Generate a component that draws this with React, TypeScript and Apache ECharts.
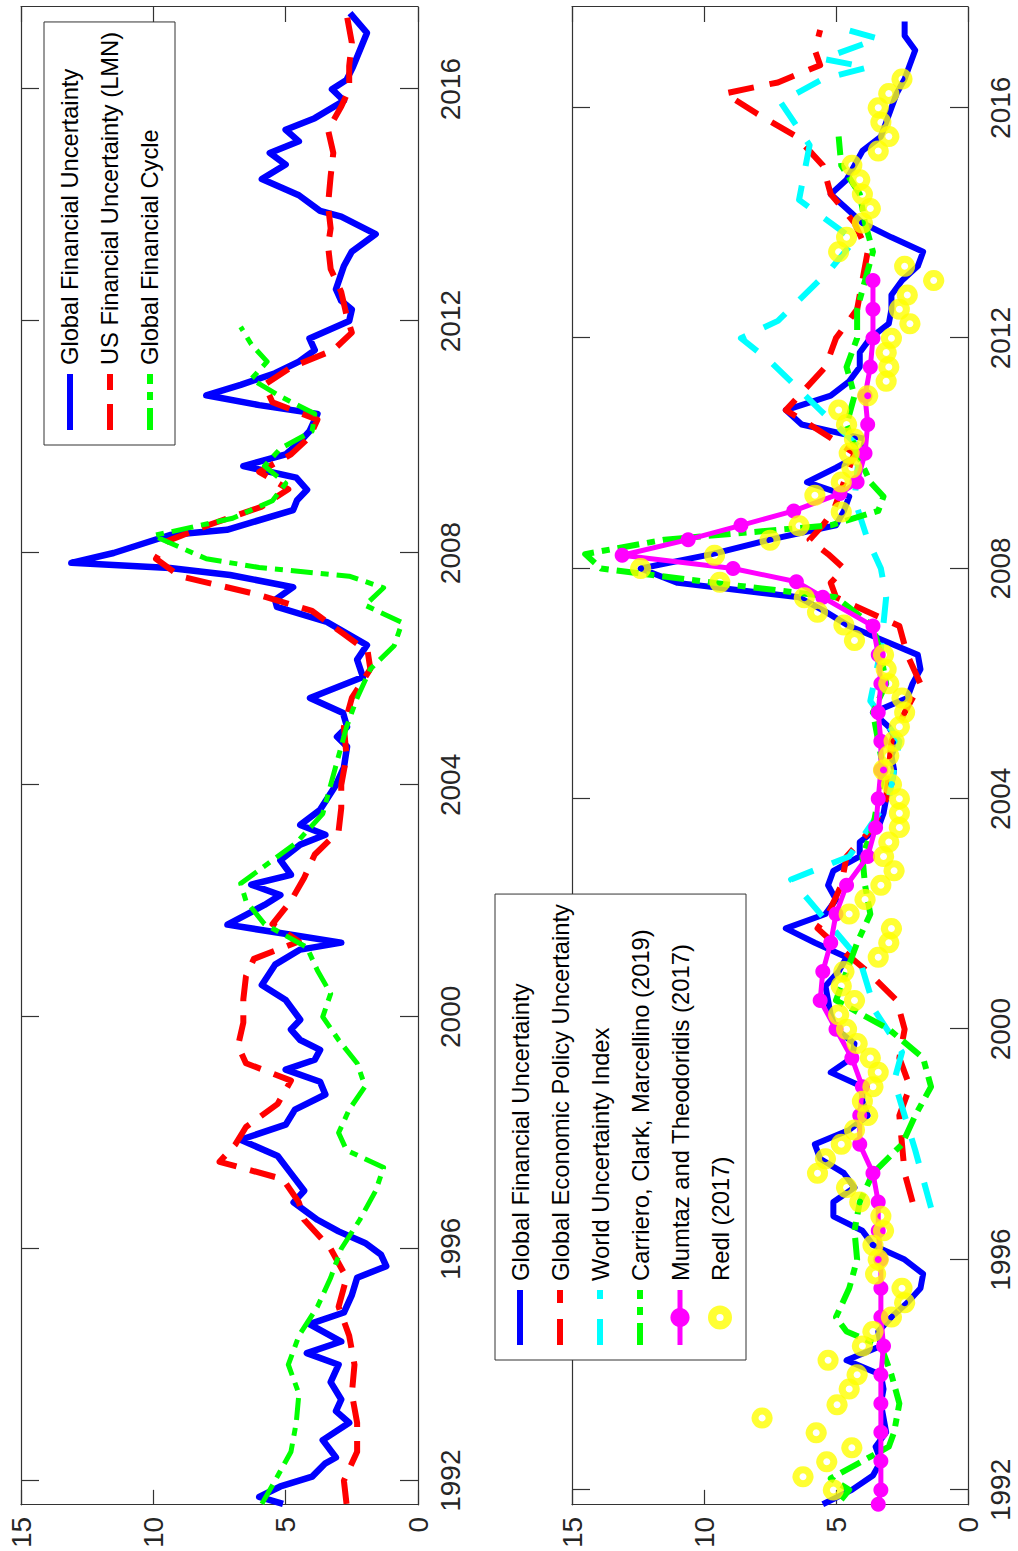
import React, { useEffect, useRef } from "react";
import * as echarts from "echarts";

const YEAR_TICKS = [1992, 1996, 2000, 2004, 2008, 2012, 2016];

// ---------- Top panel ----------
const topGFU: [number, number][] = [
  [1991.6, 5.1], [1991.72, 6.0], [1991.9, 5.2], [1992.07, 4.0], [1992.3, 3.5], [1992.4, 3.1], [1992.7, 3.6],
  [1993.0, 2.6], [1993.2, 3.1], [1993.4, 2.9], [1993.7, 3.3], [1994.0, 3.0], [1994.2, 4.2], [1994.4, 2.9],
  [1994.7, 4.1], [1994.9, 2.8], [1995.2, 2.5], [1995.5, 2.3], [1995.7, 1.2], [1995.9, 1.4], [1996.1, 2.0],
  [1996.3, 3.0], [1996.5, 3.8], [1996.8, 4.7], [1997.0, 4.3], [1997.3, 4.8], [1997.6, 5.3], [1997.88, 6.7],
  [1998.14, 5.0], [1998.4, 4.65], [1998.66, 3.5], [1998.88, 3.7], [1999.09, 5.0], [1999.26, 3.9], [1999.43, 3.7],
  [1999.6, 4.45], [1999.78, 4.8], [1999.95, 4.45], [2000.29, 5.0], [2000.55, 5.9], [2000.9, 5.4], [2001.16, 4.45],
  [2001.28, 2.9], [2001.59, 7.2], [2001.76, 6.5], [2001.93, 5.8], [2002.1, 5.2], [2002.28, 6.3], [2002.45, 4.8],
  [2002.7, 5.2], [2002.97, 4.45], [2003.14, 3.5], [2003.31, 4.45], [2003.57, 3.7], [2004.0, 3.1], [2004.3, 2.8],
  [2004.66, 2.68], [2004.83, 3.06], [2005.0, 2.68], [2005.24, 2.83], [2005.5, 4.08], [2005.86, 2.08], [2006.16, 2.3],
  [2006.41, 1.93], [2006.81, 3.44], [2007.07, 5.33], [2007.19, 5.4], [2007.41, 4.72], [2007.62, 7.1],
  [2007.74, 9.37], [2007.83, 13.1], [2008.0, 11.5], [2008.31, 9.37], [2008.4, 7.22], [2008.74, 4.72],
  [2008.91, 4.57], [2009.09, 4.19], [2009.3, 4.6], [2009.5, 6.6], [2009.7, 5.0], [2009.9, 4.5], [2010.1, 4.1],
  [2010.4, 3.8], [2010.55, 6.0], [2010.72, 8.0], [2010.9, 6.7], [2011.1, 5.4], [2011.3, 4.5], [2011.5, 3.9],
  [2011.7, 4.1], [2012.0, 2.6], [2012.2, 2.5], [2012.35, 2.9], [2012.55, 3.1], [2012.95, 2.8], [2013.2, 2.5],
  [2013.5, 1.6], [2013.8, 2.9], [2013.9, 3.7], [2014.17, 4.5], [2014.45, 5.9], [2014.7, 5.0], [2014.9, 5.6],
  [2015.1, 4.5], [2015.3, 5.0], [2015.5, 3.9], [2015.8, 2.8], [2016.0, 3.25], [2016.16, 2.7], [2016.38, 2.46],
  [2016.97, 1.93], [2017.31, 2.57],
];

const topUSFU: [number, number][] = [
  [1991.6, 2.7], [1992.0, 2.8], [1992.5, 2.3], [1993.0, 2.3], [1993.5, 2.5], [1994.0, 2.4], [1994.5, 2.6],
  [1995.0, 3.0], [1995.5, 2.7], [1996.0, 3.3], [1996.5, 4.3], [1996.8, 4.5], [1997.2, 5.1], [1997.5, 7.5],
  [1997.8, 6.9], [1998.1, 6.5], [1998.5, 5.3], [1998.9, 4.8], [1999.2, 6.5], [1999.5, 6.8], [1999.9, 6.6],
  [2000.3, 6.6], [2000.7, 6.5], [2001.0, 6.2], [2001.3, 4.5], [2001.6, 5.5], [2002.0, 4.8], [2002.4, 4.3],
  [2002.8, 3.9], [2003.2, 3.0], [2003.6, 2.9], [2004.0, 2.9], [2004.5, 2.7], [2005.0, 2.8], [2005.5, 2.5],
  [2006.0, 1.8], [2006.3, 1.9], [2006.6, 2.8], [2007.0, 4.0], [2007.3, 6.2], [2007.6, 9.0], [2007.9, 9.9],
  [2008.2, 9.5], [2008.5, 7.8], [2008.8, 5.9], [2009.1, 4.9], [2009.4, 6.0], [2009.7, 4.8], [2010.0, 4.1],
  [2010.3, 3.8], [2010.6, 5.5], [2010.9, 5.8], [2011.2, 4.8], [2011.5, 3.2], [2011.8, 2.5], [2012.1, 2.7],
  [2012.5, 2.9], [2012.9, 3.3], [2013.3, 3.4], [2013.6, 3.3], [2014.0, 3.4], [2014.5, 3.3], [2014.9, 3.2],
  [2015.3, 3.4], [2015.7, 2.9], [2016.0, 2.6], [2016.4, 2.6], [2016.8, 2.5], [2017.3, 2.7],
];

const topGFC: [number, number][] = [
  [1991.6, 5.9], [1992.0, 5.4], [1992.5, 4.8], [1993.0, 4.6], [1993.5, 4.5], [1994.0, 4.9], [1994.5, 4.5],
  [1995.0, 3.8], [1995.5, 3.3], [1996.0, 2.9], [1996.5, 2.2], [1997.0, 1.6], [1997.4, 1.3], [1997.7, 2.7],
  [1998.0, 3.0], [1998.4, 2.6], [1998.8, 2.0], [1999.2, 2.3], [1999.6, 3.0], [2000.0, 3.6], [2000.4, 3.3],
  [2000.8, 3.8], [2001.2, 4.2], [2001.6, 5.8], [2002.0, 6.5], [2002.3, 6.7], [2002.7, 5.5], [2003.0, 4.6],
  [2003.5, 3.6], [2004.0, 3.3], [2004.5, 3.0], [2005.0, 2.7], [2005.5, 2.3], [2006.0, 1.8], [2006.4, 0.9],
  [2006.8, 0.6], [2007.1, 2.0], [2007.4, 1.3], [2007.6, 2.6], [2007.75, 6.0], [2007.9, 8.0], [2008.1, 9.0],
  [2008.3, 10.0], [2008.6, 7.0], [2008.9, 5.5], [2009.2, 5.0], [2009.5, 5.8], [2009.8, 5.2], [2010.1, 4.0],
  [2010.4, 3.9], [2010.7, 5.2], [2011.0, 6.3], [2011.3, 5.7], [2011.6, 6.3], [2011.9, 6.7],
];

// ---------- Bottom panel (quarterly) ----------
const botGFU: [number, number][] = [
  [1991.75, 5.5], [1992.0, 4.4], [1992.25, 3.6], [1992.5, 3.3], [1992.75, 3.5], [1993.0, 3.1], [1993.25, 3.2],
  [1993.5, 3.3], [1993.75, 3.2], [1994.0, 3.3], [1994.25, 4.6], [1994.5, 3.3], [1994.75, 3.4], [1995.0, 2.9],
  [1995.25, 2.3], [1995.5, 1.8], [1995.75, 1.7], [1996.0, 2.4], [1996.25, 3.6], [1996.5, 4.0], [1996.75, 5.1],
  [1997.0, 5.1], [1997.25, 4.3], [1997.5, 4.7], [1997.75, 5.6], [1998.0, 5.8], [1998.25, 4.5], [1998.5, 3.8],
  [1998.75, 4.0], [1999.0, 4.0], [1999.25, 5.2], [1999.5, 4.4], [1999.75, 4.3], [2000.0, 5.0], [2000.25, 5.2],
  [2000.5, 5.3], [2000.75, 5.4], [2001.0, 4.9], [2001.25, 4.6], [2001.5, 5.8], [2001.75, 6.9], [2002.0, 5.4],
  [2002.25, 5.0], [2002.5, 5.3], [2002.75, 5.1], [2003.0, 4.1], [2003.25, 4.1], [2003.5, 3.4], [2003.75, 3.2],
  [2004.0, 3.1], [2004.25, 2.9], [2004.5, 2.8], [2004.75, 2.9], [2005.0, 2.7], [2005.25, 3.0], [2005.5, 3.6],
  [2005.75, 2.3], [2006.0, 2.1], [2006.25, 1.8], [2006.5, 1.9], [2006.75, 3.2], [2007.0, 4.5], [2007.25, 5.4],
  [2007.5, 6.4], [2007.75, 11.0], [2008.0, 12.4], [2008.25, 9.7], [2008.5, 7.5], [2008.75, 5.0], [2009.0, 4.7],
  [2009.25, 4.5], [2009.5, 6.1], [2009.75, 5.0], [2010.0, 4.0], [2010.25, 3.9], [2010.5, 6.3], [2010.75, 6.9],
  [2011.0, 5.2], [2011.25, 4.5], [2011.5, 4.1], [2011.75, 4.1], [2012.0, 3.7], [2012.25, 3.0], [2012.5, 2.9],
  [2012.75, 2.9], [2013.0, 2.5], [2013.25, 1.9], [2013.5, 1.7], [2013.75, 2.9], [2014.0, 4.0], [2014.25, 4.6],
  [2014.5, 5.2], [2014.75, 4.6], [2015.0, 4.3], [2015.25, 4.0], [2015.5, 3.3], [2015.75, 3.1], [2016.0, 2.9],
  [2016.25, 2.7], [2016.5, 2.4], [2016.75, 2.2], [2017.0, 2.0], [2017.25, 2.4], [2017.5, 2.4],
];

const botGEPU: [number, number][] = [
  [1997.0, 2.1], [1997.5, 2.4], [1998.0, 2.5], [1998.5, 2.6], [1999.0, 2.2], [1999.5, 2.6], [2000.0, 2.4],
  [2000.5, 2.7], [2001.0, 3.8], [2001.5, 5.1], [2001.75, 5.7], [2002.0, 5.3], [2002.5, 4.8], [2003.0, 4.6],
  [2003.5, 3.6], [2004.0, 3.1], [2004.5, 3.0], [2005.0, 2.9], [2005.5, 2.4], [2006.0, 1.8], [2006.5, 2.3],
  [2007.0, 2.6], [2007.5, 5.0], [2007.75, 5.2], [2008.0, 4.7], [2008.25, 5.3], [2008.5, 6.0], [2008.75, 5.5],
  [2009.0, 5.1], [2009.5, 4.7], [2010.0, 4.3], [2010.5, 6.0], [2010.75, 6.9], [2011.0, 6.4], [2011.5, 5.4],
  [2012.0, 5.0], [2012.5, 4.2], [2013.0, 4.0], [2013.5, 3.8], [2014.0, 4.3], [2014.5, 5.2], [2015.0, 5.5],
  [2015.5, 6.5], [2015.9, 8.0], [2016.25, 9.2], [2016.44, 7.2], [2016.74, 5.6], [2017.0, 5.8], [2017.35, 5.6],
];

const botWUI: [number, number][] = [
  [1996.9, 1.4], [1997.9, 2.0], [1999.1, 2.8], [1999.6, 2.5], [2000.3, 3.5], [2001.2, 4.1], [2002.6, 6.7],
  [2003.0, 4.5], [2004.0, 3.0], [2005.0, 2.6], [2005.7, 3.7], [2006.6, 3.3], [2007.5, 3.1], [2008.0, 3.3],
  [2008.5, 3.8], [2009.2, 4.3], [2010.1, 4.1], [2010.75, 5.6], [2011.6, 7.5], [2012.0, 8.6], [2012.3, 7.2],
  [2013.2, 5.2], [2013.7, 4.3], [2014.4, 6.4], [2015.35, 6.0], [2016.1, 7.1], [2016.5, 5.5], [2016.7, 3.8],
  [2016.85, 5.5], [2017.2, 3.4], [2017.38, 4.8],
];

const botCCM: [number, number][] = [
  [1991.83, 4.8], [1992.0, 4.5], [1992.2, 5.2], [1992.6, 3.6], [1992.75, 3.0], [1993.0, 2.8], [1993.5, 2.6],
  [1994.0, 2.9], [1994.5, 3.3], [1994.75, 4.6], [1995.0, 5.0], [1995.5, 4.5], [1996.0, 4.2], [1996.5, 4.3],
  [1997.0, 4.1], [1997.5, 3.6], [1998.0, 2.5], [1998.5, 2.0], [1999.0, 1.4], [1999.5, 1.7], [2000.0, 3.0],
  [2000.5, 5.0], [2001.0, 4.6], [2001.5, 4.2], [2002.0, 3.7], [2002.5, 3.9], [2003.0, 4.0], [2003.5, 3.6],
  [2004.0, 3.4], [2004.5, 3.2], [2005.0, 3.4], [2005.5, 3.6], [2006.0, 3.1], [2006.5, 3.3], [2007.0, 3.6],
  [2007.5, 5.0], [2007.75, 9.6], [2008.0, 13.9], [2008.25, 14.5], [2008.5, 11.5], [2008.75, 5.2], [2009.0, 3.4],
  [2009.25, 3.2], [2009.5, 3.7], [2010.0, 4.2], [2010.5, 4.6], [2011.0, 4.3], [2011.5, 4.6], [2012.0, 4.2],
  [2012.5, 4.2], [2013.0, 3.9], [2013.5, 3.6], [2014.0, 3.9], [2014.5, 4.1], [2015.0, 4.8], [2015.5, 4.9],
];

const botMT: [number, number][] = [
  [1991.75, 3.4], [1992.0, 3.3], [1992.5, 3.3], [1993.0, 3.3], [1993.5, 3.3], [1994.0, 3.3], [1994.5, 3.2],
  [1995.0, 3.3], [1995.5, 3.3], [1996.0, 3.3], [1996.5, 3.4], [1997.0, 3.4], [1997.5, 3.6], [1998.0, 4.1],
  [1998.5, 4.1], [1999.0, 4.0], [1999.5, 4.4], [2000.0, 5.0], [2000.5, 5.6], [2001.0, 5.5], [2001.5, 5.2],
  [2002.0, 5.0], [2002.5, 4.6], [2003.0, 3.8], [2003.5, 3.5], [2004.0, 3.4], [2004.5, 3.3], [2005.0, 3.3],
  [2005.5, 3.4], [2006.0, 3.3], [2006.5, 3.4], [2007.0, 3.6], [2007.5, 5.5], [2007.77, 6.5], [2008.0, 8.9],
  [2008.23, 13.1], [2008.5, 10.6], [2008.75, 8.6], [2009.0, 6.6], [2009.3, 4.85], [2009.5, 4.2], [2010.0, 3.9],
  [2010.5, 3.8], [2011.0, 3.9], [2011.5, 3.7], [2012.0, 3.6], [2012.5, 3.6], [2013.0, 3.6],
];

const botRedl: [number, number][] = [
  [1991.72, 4.2], [1992.0, 5.1], [1992.23, 6.25], [1992.49, 5.35], [1992.73, 4.4], [1992.99, 5.75], [1993.25, 7.8],
  [1993.48, 4.96], [1993.75, 4.5], [1994.0, 4.2], [1994.25, 5.3], [1994.5, 4.0], [1994.75, 3.6], [1995.0, 2.9],
  [1995.25, 2.4], [1995.5, 2.5], [1995.75, 3.5], [1996.0, 3.4], [1996.25, 3.6], [1996.5, 3.2], [1996.75, 3.3],
  [1997.0, 4.1], [1997.25, 4.6], [1997.5, 5.7], [1997.75, 5.4], [1998.0, 4.8], [1998.25, 4.3], [1998.5, 3.8],
  [1998.75, 4.0], [1999.0, 3.6], [1999.25, 3.4], [1999.5, 3.7], [1999.75, 4.2], [2000.0, 4.6], [2000.25, 4.9],
  [2000.5, 4.3], [2000.75, 4.8], [2001.0, 4.7], [2001.25, 3.4], [2001.5, 3.0], [2001.75, 2.9], [2002.0, 4.5],
  [2002.25, 3.9], [2002.5, 3.3], [2002.75, 2.8], [2003.0, 3.2], [2003.25, 3.0], [2003.5, 2.6], [2003.75, 2.6],
  [2004.0, 2.6], [2004.25, 2.9], [2004.5, 3.2], [2004.75, 3.0], [2005.0, 2.8], [2005.25, 2.6], [2005.5, 2.4],
  [2005.75, 2.5], [2006.0, 3.0], [2006.25, 3.1], [2006.5, 3.2], [2006.75, 4.3], [2007.02, 4.7], [2007.24, 5.7],
  [2007.49, 6.2], [2007.76, 9.4], [2008.0, 12.4], [2008.23, 9.6], [2008.49, 7.5], [2008.74, 6.4], [2008.98, 4.8],
  [2009.27, 5.8], [2009.5, 4.8], [2009.75, 4.4], [2010.0, 4.5], [2010.25, 4.3], [2010.5, 4.6], [2010.75, 4.9],
  [2011.0, 3.8], [2011.25, 3.1], [2011.5, 3.0], [2011.75, 3.1], [2012.0, 2.9], [2012.25, 2.2], [2012.5, 2.6],
  [2012.75, 2.3], [2013.0, 1.3], [2013.25, 2.4], [2013.5, 4.9], [2013.75, 4.6], [2014.0, 4.0], [2014.25, 3.7],
  [2014.5, 4.0], [2014.75, 4.1], [2015.0, 4.4], [2015.25, 3.4], [2015.5, 3.0], [2015.75, 3.3], [2016.0, 3.4],
  [2016.25, 3.0], [2016.5, 2.5],
];

const AXIS_COLOR = "#333333";
const FONT = "'Liberation Sans', Arial, sans-serif";

function timeAxis(gridIndex: number, min: number, max: number, labels: boolean, position: string) {
  return {
    type: "value",
    gridIndex,
    position,
    min,
    max,
    axisLine: { show: true, onZero: false, lineStyle: { color: AXIS_COLOR, width: 1.2 } },
    axisTick: { show: true, inside: true, length: 18, customValues: YEAR_TICKS, lineStyle: { color: AXIS_COLOR, width: 1.2 } },
    axisLabel: {
      show: labels,
      customValues: YEAR_TICKS,
      formatter: (v: number) => String(Math.round(v)),
      fontSize: 28,
      fontFamily: FONT,
      color: "#262626",
      margin: 18,
    },
    splitLine: { show: false },
  };
}

function valueAxis(gridIndex: number, labels: boolean, position: string) {
  return {
    type: "value",
    gridIndex,
    position,
    min: 0,
    max: 15,
    interval: 5,
    axisLine: { show: true, onZero: false, lineStyle: { color: AXIS_COLOR, width: 1.2 } },
    axisTick: { show: true, inside: true, length: 15, lineStyle: { color: AXIS_COLOR, width: 1.2 } },
    axisLabel: { show: labels, fontSize: 28, fontFamily: FONT, color: "#262626", margin: 12 },
    splitLine: { show: false },
  };
}

function line(name: string, data: [number, number][], color: string, width: number, dash: any, axis: number, z: number) {
  return {
    type: "line",
    name,
    data,
    xAxisIndex: axis,
    yAxisIndex: axis,
    symbol: "none",
    silent: true,
    z,
    lineStyle: { color, width, type: dash, cap: "butt", join: "round" },
    itemStyle: { color },
  };
}

const RING_ICON =
  "path://M10,0A10,10,0,1,1,10,20A10,10,0,1,1,10,0ZM10,7A3,3,0,1,0,10,13A3,3,0,1,0,10,7Z";

const plain = (name: string) => ({ name, itemStyle: { opacity: 0 } });

export default function App() {
  const ref = useRef<HTMLDivElement>(null);
  useEffect(() => {
    const chart = echarts.init(ref.current!, null, { renderer: "svg" });
    const option: any = {
      animation: false,
      backgroundColor: "#ffffff",
      grid: [
        { left: 46, top: 21, width: 1498, height: 397 },
        { left: 46, top: 572, width: 1498, height: 396 },
      ],
      xAxis: [
        timeAxis(0, 1991.583, 2017.417, true, "bottom"),
        timeAxis(0, 1991.583, 2017.417, false, "top"),
        timeAxis(1, 1991.74, 2017.75, true, "bottom"),
        timeAxis(1, 1991.74, 2017.75, false, "top"),
      ],
      yAxis: [valueAxis(0, true, "left"), valueAxis(0, false, "right"), valueAxis(1, true, "left"), valueAxis(1, false, "right")],
      legend: [
        {
          orient: "vertical",
          left: 1106,
          top: 44,
          padding: [14, 10, 13, 12],
          itemWidth: 56,
          itemHeight: 24,
          itemGap: 16,
          selectedMode: false,
          backgroundColor: "#ffffff",
          borderColor: AXIS_COLOR,
          borderWidth: 1,
          lineStyle: { width: 6 },
          textStyle: { fontSize: 23.7, fontFamily: FONT, color: "#000", padding: [0, 0, 0, 4] },
          data: [
            plain("Global Financial Uncertainty"),
            plain("US Financial Uncertainty (LMN)"),
            plain("Global Financial Cycle"),
          ],
        },
        {
          orient: "vertical",
          left: 191,
          top: 495,
          padding: [13, 10, 14, 12],
          itemWidth: 55,
          itemHeight: 24,
          itemGap: 16,
          selectedMode: false,
          backgroundColor: "#ffffff",
          borderColor: AXIS_COLOR,
          borderWidth: 1,
          lineStyle: { width: 6 },
          textStyle: { fontSize: 23.8, fontFamily: FONT, color: "#000", padding: [0, 0, 0, 4] },
          data: [
            plain("Global Financial Uncertainty"),
            plain("Global Economic Policy Uncertainty"),
            plain("World Uncertainty Index"),
            plain("Carriero, Clark, Marcellino (2019)"),
            { name: "Mumtaz and Theodoridis (2017)", lineStyle: { width: 5 } },
            { name: "Redl (2017)", icon: RING_ICON, itemStyle: { color: "#ffff00", borderWidth: 0 } },
          ],
        },
      ],
      series: [
        line("Global Financial Uncertainty", topGFU, "#0000ff", 6.5, "solid", 0, 2),
        line("US Financial Uncertainty (LMN)", topUSFU, "#ff0000", 6, [26, 14], 0, 3),
        line("Global Financial Cycle", topGFC, "#00ff00", 5, [22, 8, 8, 8], 0, 4),
        line("Global Financial Uncertainty", botGFU, "#0000ff", 6, "solid", 2, 2),
        line("Global Economic Policy Uncertainty", botGEPU, "#ff0000", 6, [26, 16], 2, 3),
        line("World Uncertainty Index", botWUI, "#00ffff", 6, [26, 20], 2, 4),
        line("Carriero, Clark, Marcellino (2019)", botCCM, "#00ff00", 6, [22, 8, 8, 8], 2, 5),
        {
          type: "line",
          name: "Mumtaz and Theodoridis (2017)",
          data: botMT,
          xAxisIndex: 2,
          yAxisIndex: 2,
          symbol: "circle",
          symbolSize: 15,
          showSymbol: true,
          silent: true,
          z: 6,
          lineStyle: { color: "#ff00ff", width: 5 },
          itemStyle: { color: "#ff00ff" },
        },
        {
          type: "scatter",
          name: "Redl (2017)",
          data: botRedl,
          xAxisIndex: 2,
          yAxisIndex: 2,
          symbol: "circle",
          symbolSize: 14,
          silent: true,
          z: 7,
          itemStyle: { color: "rgba(255,255,255,0)", borderColor: "#ffff00", borderWidth: 7 },
        },
      ],
    };
    chart.setOption(option);
    return () => chart.dispose();
  }, []);
  return (
    <div style={{ position: "fixed", left: 0, top: 0, width: 1018, height: 1551, overflow: "hidden", background: "#fff" }}>
      <div
        ref={ref}
        style={{
          position: "absolute",
          left: 0,
          top: 0,
          width: 1551,
          height: 1018,
          transformOrigin: "0 0",
          transform: "translate(0px, 1551px) rotate(-90deg)",
        }}
      />
    </div>
  );
}
